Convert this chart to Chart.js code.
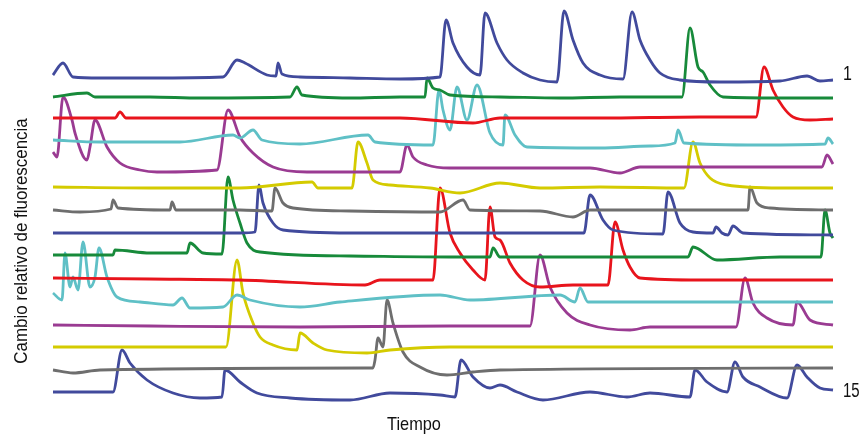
<!DOCTYPE html>
<html>
<head>
<meta charset="utf-8">
<script src="https://cdn.jsdelivr.net/npm/chart.js@4.4.1/dist/chart.umd.min.js"></script>
<style>
  html, body { margin: 0; padding: 0; background: #ffffff; }
  canvas { display: block; }
</style>
</head>
<body>
<canvas id="traces" width="868" height="437"></canvas>
<script>
// Fluorescence traces: [frame, relative change]
const cell01 = [[1,3],[11,15],[21,1],[48,0],[98,0],[171,1],[185,18],[193,15],[215,3],[224,2],[226,15],[230,4],[248,1],[298,0],[348,-1],[388,1],[394,58],[401,35],[415,11],[428,3],[433,65],[445,35],[455,18],[471,5],[488,-2],[505,-4],[512,67],[521,38],[531,15],[548,3],[571,-1],[580,66],[588,38],[598,18],[608,5],[628,-2],[668,-4],[728,-3],[755,2],[768,-3],[781,-2]];
const cell02 = [[1,0],[35,4],[43,0],[98,0],[148,-1],[238,0],[245,10],[250,2],[298,-1],[348,0],[373,0],[375,19],[381,9],[388,7],[398,2],[448,0],[508,-1],[568,0],[630,0],[638,69],[646,30],[651,25],[658,12],[671,0],[728,-1],[781,-1]];
const cell03 = [[1,0],[63,0],[68,6],[74,0],[148,0],[248,0],[348,0],[421,-5],[448,0],[548,0],[648,1],[704,1],[712,51],[721,28],[731,11],[741,1],[758,-2],[781,-1]];
const cell04 = [[1,2],[48,0],[128,0],[181,7],[188,4],[201,12],[210,2],[248,-2],[316,7],[323,0],[381,-3],[387,52],[391,32],[398,12],[405,55],[415,22],[425,57],[438,9],[451,-3],[453,27],[463,7],[475,-5],[548,-6],[598,-4],[623,-1],[626,12],[632,-1],[708,-3],[773,-2],[776,4],[781,-2]];
const cell05 = [[1,18],[5,13],[11,73],[20,50],[23,37],[35,10],[38,23],[43,50],[55,23],[68,7],[88,0],[105,-2],[165,0],[176,60],[188,33],[201,17],[221,3],[255,-2],[348,-2],[355,25],[361,13],[375,5],[398,2],[468,2],[538,2],[568,-3],[588,3],[668,3],[770,3],[775,15],[781,6]];
const cell06 = [[1,1],[98,0],[188,0],[260,6],[266,0],[300,0],[306,46],[315,25],[321,8],[338,3],[378,0],[408,-5],[448,5],[488,0],[548,1],[632,0],[641,46],[648,25],[658,10],[675,3],[728,0],[781,0]];
const cell07 = [[1,1],[28,-1],[59,2],[61,11],[66,3],[118,1],[120,9],[124,1],[188,1],[220,0],[223,23],[231,8],[241,3],[298,0],[388,-1],[411,11],[418,1],[488,0],[521,-6],[538,1],[648,1],[696,1],[698,24],[705,8],[718,3],[781,1]];
const cell08 = [[1,0],[98,0],[188,0],[203,1],[207,48],[211,30],[221,10],[231,3],[298,0],[398,0],[532,0],[538,38],[551,13],[561,3],[611,-1],[616,41],[628,10],[641,1],[661,0],[664,6],[670,0],[676,-2],[681,7],[691,0],[781,-2]];
const cell09 = [[1,1],[61,1],[63,6],[98,3],[135,3],[138,13],[151,3],[170,2],[176,79],[181,56],[188,33],[195,13],[208,4],[298,0],[398,-1],[438,-1],[441,8],[448,-1],[548,-1],[636,-1],[641,9],[665,-4],[728,-1],[769,-1],[773,46],[778,23],[781,18]];
const cell10 = [[1,2],[98,1],[188,0],[313,-5],[328,0],[381,0],[388,92],[398,47],[408,27],[421,10],[433,0],[438,73],[443,43],[448,40],[458,17],[471,0],[488,-7],[521,-5],[556,-5],[563,58],[571,30],[578,13],[588,2],[648,0],[781,0]];
const cell11 = [[1,8],[10,1],[13,48],[18,14],[21,24],[26,11],[31,59],[38,14],[43,24],[47,53],[55,24],[65,4],[88,-1],[121,-4],[130,3],[138,-7],[171,-6],[185,6],[198,1],[248,-6],[288,-1],[388,6],[418,1],[508,6],[523,-1],[528,13],[536,-1],[598,-1],[781,-1]];
const cell12 = [[1,1],[98,0],[248,-1],[398,0],[478,0],[488,71],[498,39],[515,13],[538,1],[578,-4],[598,-1],[684,-1],[693,48],[701,23],[715,8],[741,1],[745,24],[758,6],[781,1]];
const cell13 = [[1,0],[98,0],[174,0],[185,87],[191,54],[201,24],[208,10],[221,2],[245,-3],[248,14],[261,4],[275,-3],[315,-6],[338,-3],[398,0],[781,0]];
const cell14 = [[1,0],[21,-3],[48,0],[313,2],[321,2],[323,10],[326,32],[331,23],[335,70],[341,47],[351,18],[368,3],[395,-5],[421,-2],[448,0],[781,2]];
const cell15 = [[1,1],[61,1],[70,43],[78,30],[95,13],[121,0],[148,-5],[170,-4],[173,23],[188,11],[205,0],[238,-5],[298,-7],[338,0],[388,-2],[403,-4],[409,33],[421,16],[438,5],[448,8],[465,1],[491,-7],[538,1],[575,-4],[598,0],[638,-4],[643,23],[655,11],[675,1],[683,31],[691,16],[708,6],[735,-5],[745,28],[755,16],[768,5],[781,3]];

const cells = [cell01, cell02, cell03, cell04, cell05, cell06, cell07, cell08, cell09, cell10, cell11, cell12, cell13, cell14, cell15];

// Vertical stacking of the traces (baseline of each trace)
const stackOffsets = [359, 340, 319, 295, 267, 249, 226, 204, 181, 157, 136, 111, 90, 67, 44];

const colors = ['#414a9c', '#178a3a', '#e8141c', '#5fc0c6', '#9a3b92', '#d4cb00', '#6e6e6e',
                '#414a9c', '#178a3a', '#e8141c', '#5fc0c6', '#9a3b92', '#d4cb00', '#6e6e6e', '#414a9c'];

const FONT = "'Liberation Sans', sans-serif";

// narrow text: the figure uses a condensed face
function narrowText(ctx, text, x, y, angle, squeeze) {
    ctx.save();
    ctx.translate(x, y);
    ctx.rotate(angle);
    ctx.scale(squeeze, 1);
    ctx.fillText(text, 0, 0);
    ctx.restore();
}

// Draw axis titles and trace numbers
const labelsPlugin = {
    id: 'labels',
    afterDraw(chart) {
        const ctx = chart.ctx;
        const area = chart.chartArea;
        const y = chart.scales.y;
        ctx.save();
        ctx.fillStyle = '#111111';
        ctx.font = '19px ' + FONT;
        ctx.textAlign = 'center';
        ctx.textBaseline = 'middle';
        narrowText(ctx, 'Tiempo', 414, 425, 0, 0.86);
        narrowText(ctx, 'Cambio relativo de fluorescencia', 22, 241, -Math.PI / 2, 0.89);

        ctx.font = '20px ' + FONT;
        ctx.textAlign = 'left';
        narrowText(ctx, '1', area.right + 8, y.getPixelForValue(stackOffsets[0]) - 4, 0, 0.8);
        narrowText(ctx, '15', area.right + 8, y.getPixelForValue(stackOffsets[14]) - 2, 0, 0.75);
        ctx.restore();
    }
};

const datasets = cells.map((cell, i) => ({
    data: cell.map(p => ({ x: p[0], y: stackOffsets[i] + p[1] })),
    borderColor: colors[i],
    borderWidth: 2.8,
    pointRadius: 0,
    cubicInterpolationMode: 'monotone',
    fill: false
}));

new Chart(document.getElementById('traces').getContext('2d'), {
    type: 'line',
    data: { datasets: datasets },
    options: {
        responsive: false,
        animation: false,
        layout: { padding: { left: 52, right: 33, top: 0, bottom: 0 } },
        plugins: { legend: { display: false }, tooltip: { enabled: false } },
        scales: {
            x: { type: 'linear', min: 0, max: 783, display: false },
            y: { min: 0, max: 437, display: false }
        }
    },
    plugins: [labelsPlugin]
});
</script>
</body>
</html>
